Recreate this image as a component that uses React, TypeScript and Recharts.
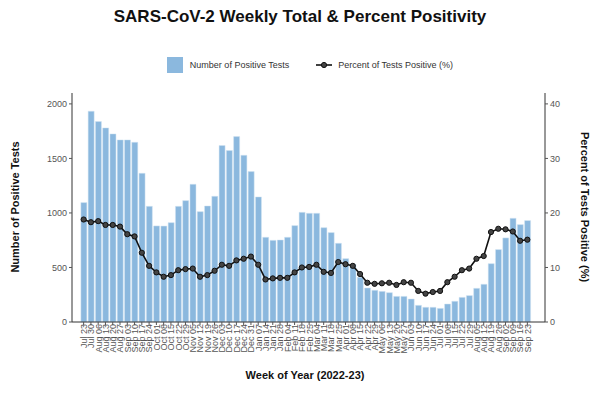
import React from 'react';
import { ComposedChart, Bar, Line, XAxis, YAxis, Legend } from 'recharts';

const weeks = [
  'Jul 23', 'Jul 30', 'Aug 06', 'Aug 13', 'Aug 20', 'Aug 27', 'Sep 03', 'Sep 10', 'Sep 17', 'Sep 24',
  'Oct 01', 'Oct 08', 'Oct 15', 'Oct 22', 'Oct 29', 'Nov 05', 'Nov 12', 'Nov 19', 'Nov 26', 'Dec 03',
  'Dec 10', 'Dec 17', 'Dec 24', 'Dec 31', 'Jan 07', 'Jan 14', 'Jan 21', 'Jan 28', 'Feb 04', 'Feb 11',
  'Feb 18', 'Feb 25', 'Mar 04', 'Mar 11', 'Mar 18', 'Mar 25', 'Apr 01', 'Apr 08', 'Apr 15', 'Apr 22',
  'Apr 29', 'May 06', 'May 13', 'May 20', 'May 27', 'Jun 03', 'Jun 10', 'Jun 17', 'Jun 24', 'Jul 01',
  'Jul 08', 'Jul 15', 'Jul 22', 'Jul 29', 'Aug 05', 'Aug 12', 'Aug 19', 'Aug 26', 'Sep 02', 'Sep 09',
  'Sep 16', 'Sep 23',
];

const positiveTests = [
  1095, 1933, 1838, 1780, 1725, 1670, 1670, 1648, 1364, 1061,
  881, 880, 911, 1061, 1113, 1263, 1012, 1064, 1153, 1618,
  1572, 1700, 1529, 1379, 1147, 777, 749, 752, 777, 884,
  1006, 997, 997, 865, 820, 722, 581, 529, 410, 312,
  291, 281, 269, 235, 235, 211, 153, 135, 135, 125,
  165, 190, 226, 242, 309, 346, 535, 664, 771, 951,
  893, 930,
];

const percentPositive = [
  18.8, 18.3, 18.5, 17.8, 17.8, 17.5, 16.1, 15.7, 12.7, 10.3,
  9.1, 8.3, 8.6, 9.5, 9.7, 9.8, 8.3, 8.6, 9.4, 10.5,
  10.3, 11.3, 11.6, 12.0, 10.5, 7.8, 8.0, 8.1, 8.1, 9.1,
  10.0, 10.1, 10.5, 9.2, 9.0, 11.0, 10.6, 10.3, 8.8, 7.2,
  7.0, 7.1, 7.2, 6.8, 7.3, 7.2, 5.7, 5.2, 5.5, 5.7,
  7.3, 8.3, 9.5, 9.8, 11.6, 12.1, 16.5, 17.1, 17.0, 16.6,
  14.9, 15.1,
];

const leftTicks = [0, 500, 1000, 1500, 2000];
const rightTicks = [0, 10, 20, 30, 40];

const data = weeks.map((week, i) => ({
  week,
  tests: positiveTests[i],
  pct: percentPositive[i],
}));

const FONT = '"Liberation Sans", Arial, Helvetica, sans-serif';
const BAR_FILL = '#8bb8de';
const tickStyle = { fill: '#555', fontSize: 9, fontFamily: FONT };

const LegendContent = () => (
  <div style={{ display: 'flex', justifyContent: 'center', alignItems: 'center', height: 16, fontFamily: FONT, fontSize: 9, color: '#333', paddingLeft: 20 }}>
    <span style={{ display: 'inline-block', width: 16, height: 16, background: BAR_FILL, marginRight: 7 }} />
    <span style={{ marginRight: 27 }}>Number of Positive Tests</span>
    <svg width={16} height={8} style={{ marginRight: 6 }}>
      <line x1={0} y1={4} x2={16} y2={4} stroke="#111" strokeWidth={1.6} />
      <circle cx={8} cy={4} r={2.6} fill="#444" stroke="#111" strokeWidth={1} />
    </svg>
    <span>Percent of Tests Positive (%)</span>
  </div>
);

export default function App() {
  return (
    <div style={{ position: 'absolute', left: 0, top: 0, width: 600, height: 394, background: '#fff' }}>
      <div style={{ position: 'absolute', top: 7, left: 0, width: 600, textAlign: 'center', fontFamily: FONT, fontWeight: 'bold', fontSize: 17, color: '#111' }}>
        SARS-CoV-2 Weekly Total &amp; Percent Positivity
      </div>
      <ComposedChart
        width={600}
        height={394}
        data={data}
        margin={{ top: 77, right: 5, left: 22, bottom: 27 }}
        barCategoryGap="12%"
      >
        <Legend verticalAlign="top" content={<LegendContent />} wrapperStyle={{ top: 57, left: 0, width: 600 }} />
        <XAxis
          dataKey="week"
          interval={0}
          angle={-90}
          textAnchor="end"
          dy={-3}
          dx={-3}
          height={45}
          tick={tickStyle}
          tickSize={3}
          stroke="#333"
          tickLine={{ stroke: '#555' }}
          padding={{ left: 8, right: 14 }}
          label={() => (
            <text x={305} y={379} textAnchor="middle" fontFamily={FONT} fontWeight="bold" fontSize={11} fill="#111">
              Week of Year (2022-23)
            </text>
          )}
        />
        <YAxis
          yAxisId="left"
          domain={[0, 2100]}
          ticks={leftTicks}
          width={50}
          tick={tickStyle}
          tickSize={3}
          stroke="#333"
          tickLine={{ stroke: '#555' }}
          label={() => (
            <text x={19} y={207} transform="rotate(-90 19 207)" textAnchor="middle" fontFamily={FONT} fontWeight="bold" fontSize={11} fill="#111">
              Number of Positive Tests
            </text>
          )}
        />
        <YAxis
          yAxisId="right"
          orientation="right"
          domain={[0, 42]}
          ticks={rightTicks}
          width={50}
          tick={tickStyle}
          tickSize={3}
          stroke="#333"
          tickLine={{ stroke: '#555' }}
          label={() => (
            <text x={581} y={207} transform="rotate(90 581 207)" textAnchor="middle" fontFamily={FONT} fontWeight="bold" fontSize={11} fill="#111">
              Percent of Tests Positive (%)
            </text>
          )}
        />
        <Bar yAxisId="left" dataKey="tests" fill={BAR_FILL} stroke="#d3e5f3" strokeWidth={0.5} isAnimationActive={false} />
        <Line
          yAxisId="right"
          type="linear"
          dataKey="pct"
          stroke="#111"
          strokeWidth={1.6}
          dot={{ r: 2.6, fill: '#444', stroke: '#111', strokeWidth: 1 }}
          isAnimationActive={false}
        />
      </ComposedChart>
    </div>
  );
}
